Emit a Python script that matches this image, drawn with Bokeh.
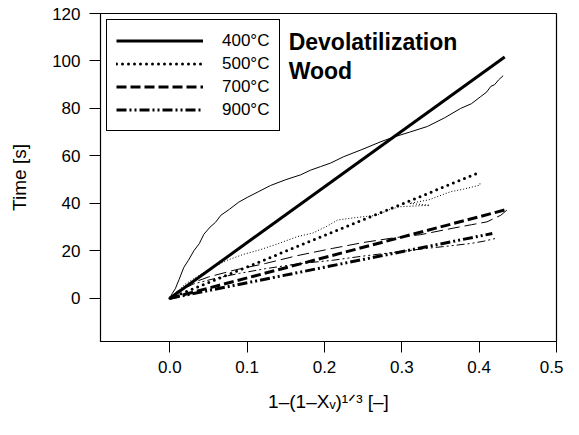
from bokeh.plotting import figure
from bokeh.models import Range1d, FixedTicker, NumeralTickFormatter, Legend, LegendItem, Label
from bokeh.embed import file_html
from bokeh.resources import INLINE

FONT = "Liberation Sans"

# ---- data ----
temps = ["400°C", "500°C", "700°C", "900°C"]

# fitted straight lines (shrinking-core fit): end points
fit_x_end = [0.433, 0.401, 0.4375, 0.417]
fit_t_end = [101.7, 53.1, 37.6, 27.3]

# experimental curves
x_400 = [0.0, 0.003, 0.007, 0.012, 0.018, 0.024, 0.031, 0.038, 0.044, 0.052, 0.059, 0.066,
         0.077, 0.089, 0.1, 0.115, 0.13, 0.15, 0.169, 0.182, 0.195, 0.208, 0.225, 0.247,
         0.273, 0.29, 0.31, 0.333, 0.355, 0.376, 0.39, 0.402, 0.41, 0.415, 0.42, 0.425, 0.431]
t_400 = [0.0, 2.0, 4.0, 8.0, 13.0, 16.0, 20.0, 23.0, 27.0, 30.0, 32.0, 35.0,
         37.5, 40.5, 42.5, 45.0, 47.5, 50.0, 52.0, 54.0, 55.5, 57.0, 59.7, 62.5,
         66.0, 68.0, 70.0, 72.4, 76.0, 80.0, 82.0, 85.0, 87.0, 89.3, 90.0, 92.0, 93.8]

x_500 = [0.0, 0.01, 0.02, 0.037, 0.055, 0.074, 0.095, 0.117, 0.14, 0.165, 0.185, 0.204,
         0.217, 0.24, 0.268, 0.285, 0.298, 0.336, 0.31, 0.335, 0.363, 0.38, 0.401, 0.401]
t_500 = [0.0, 3.0, 6.0, 9.5, 13.0, 16.0, 18.5, 20.5, 23.0, 26.0, 27.5, 30.5,
         33.0, 34.0, 35.0, 37.5, 38.6, 39.2, 40.0, 41.5, 44.9, 46.0, 47.7, 49.0]

x_700 = [0.0, 0.01, 0.025, 0.05, 0.085, 0.124, 0.165, 0.21, 0.25, 0.29, 0.324, 0.367,
         0.39, 0.41, 0.428, 0.437]
t_700 = [0.0, 3.0, 6.0, 9.0, 12.0, 14.7, 18.0, 21.0, 23.5, 25.5, 26.8, 29.6,
         31.0, 32.2, 35.0, 37.5]

x_900 = [0.0, 0.01, 0.03, 0.06, 0.09, 0.124, 0.165, 0.21, 0.25, 0.296, 0.331, 0.36,
         0.389, 0.405, 0.421]
t_900 = [0.0, 2.5, 6.0, 8.5, 10.5, 12.5, 14.5, 16.0, 17.8, 19.6, 21.0, 22.0,
         23.1, 24.0, 25.2]

x_ticks = [0.0, 0.1, 0.2, 0.3, 0.4, 0.5]
y_ticks = [0, 20, 40, 60, 80, 100, 120]
x_title = "1–(1–Xᵥ)¹ᐟ³ [–]"
y_title = "Time [s]"

# ---- figure ----
p = figure(width=563, height=419, output_backend="svg", toolbar_location=None,
           x_range=Range1d(-0.0897, 0.5), y_range=Range1d(-18.2, 120),
           min_border_left=100, min_border_right=7, min_border_top=13, min_border_bottom=78)
p.xgrid.visible = False
p.ygrid.visible = False
p.outline_line_color = "black"
p.outline_line_width = 1.2
p.outline_line_alpha = 1.0
p.background_fill_color = "white"
p.border_fill_color = "white"

for ax in (p.xaxis[0], p.yaxis[0]):
    ax.major_tick_out = 11
    ax.major_tick_in = 0
    ax.minor_tick_out = 0
    ax.minor_tick_in = 0
    ax.axis_line_color = "black"
    ax.major_tick_line_color = "black"
    ax.major_label_text_font = FONT
    ax.major_label_text_font_size = "17px"
    ax.major_label_text_color = "black"
    ax.axis_label_text_font = FONT
    ax.axis_label_text_font_style = "normal"
    ax.axis_label_text_color = "black"
    ax.axis_label_text_font_size = "19px"

p.xaxis.ticker = FixedTicker(ticks=x_ticks, minor_ticks=[])
p.xaxis.formatter = NumeralTickFormatter(format="0.0")
p.xaxis.major_label_standoff = 8
p.xaxis.axis_label = x_title
p.xaxis.axis_label_standoff = 15
p.yaxis.ticker = FixedTicker(ticks=y_ticks, minor_ticks=[])
p.yaxis.major_label_standoff = 9
p.yaxis.axis_label = y_title
p.yaxis.axis_label_standoff = 19

# experimental curves (thin)
p.line(x_400, t_400, line_color="black", line_width=1)
p.line(x_500, t_500, line_color="black", line_width=1, line_dash="1 2")
p.line(x_700, t_700, line_color="black", line_width=1, line_dash="12 5")
p.line(x_900, t_900, line_color="black", line_width=1, line_dash="8 3 2 3 2 3")

# fitted lines (thick)
styles = [
    dict(line_dash="solid", line_cap="butt"),
    dict(line_dash="0 6", line_cap="round"),
    dict(line_dash="10 4", line_cap="butt"),
    dict(line_dash="10 3 2 3 2 3", line_cap="butt"),
]
items = []
for i in range(4):
    r = p.line([0.0, fit_x_end[i]], [0.0, fit_t_end[i]], line_color="black",
               line_width=3, **styles[i])
    items.append(LegendItem(label=temps[i], renderers=[r]))

legend = Legend(items=items, location="top_left", margin=6, padding=9, spacing=0,
                glyph_width=87, glyph_height=23, label_height=23, label_standoff=19,
                label_width=48, border_line_color="black", border_line_width=1,
                border_line_alpha=1.0, background_fill_alpha=1.0,
                label_text_font=FONT, label_text_font_size="17px",
                label_text_color="black")
p.add_layout(legend, "center")

# annotation text
p.add_layout(Label(x=0.1536, y=108.0, text="Devolatilization", text_font=FONT,
                   text_font_style="bold", text_font_size="23px", text_baseline="alphabetic",
                   text_color="black"))
p.add_layout(Label(x=0.1536, y=95.6, text="Wood", text_font=FONT,
                   text_font_style="bold", text_font_size="23px", text_baseline="alphabetic",
                   text_color="black"))

open("out.html", "w").write(file_html(p, INLINE))
